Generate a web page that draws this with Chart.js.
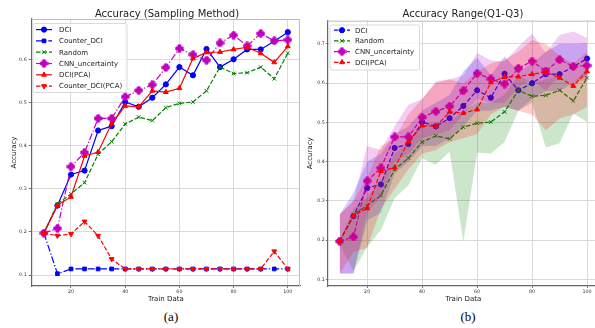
<!DOCTYPE html>
<html>
<head>
<meta charset="utf-8">
<script src="https://cdn.jsdelivr.net/npm/chart.js@4.4.0/dist/chart.umd.min.js"></script>
<style>
  html, body { margin: 0; padding: 0; background: #fff; overflow: hidden; }
  body { width: 595px; height: 328px; position: relative; font-family: "DejaVu Sans", sans-serif; }
  .box { position: absolute; top: 0; height: 305px; }
  #boxA { left: 0; width: 305px; }
  #boxB { left: 305px; width: 300px; }
  .title { position: absolute; top: 8px; font-size: 10px; line-height: 12px; color: #222; white-space: nowrap; transform: translateX(-50%); }
  .caption { position: absolute; top: 309px; font-family: "Liberation Serif", "DejaVu Serif", serif; font-size: 13px; line-height: 15px; color: #000; transform: translateX(-50%); }
</style>
</head>
<body>
<div class="box" id="boxA"><canvas id="chartA"></canvas></div>
<div class="box" id="boxB"><canvas id="chartB"></canvas></div>
<div class="title" style="left:167px">Accuracy (Sampling Method)</div>
<div class="title" style="left:463px">Accuracy Range(Q1-Q3)</div>
<div class="caption" style="left:171px">(a)</div>
<div class="caption" style="left:468px">(b)</div>
<script>
// data
const trainData = [10, 15, 20, 25, 30, 35, 40, 45, 50, 55, 60, 65, 70, 75, 80, 85, 90, 95, 100];
const dci = [0.198, 0.261, 0.333, 0.342, 0.435, 0.445, 0.501, 0.490, 0.511, 0.542, 0.582, 0.563, 0.624, 0.582, 0.600, 0.623, 0.623, 0.642, 0.663];
const counterDci = [0.197, 0.103, 0.114, 0.114, 0.114, 0.114, 0.114, 0.114, 0.114, 0.114, 0.114, 0.114, 0.114, 0.114, 0.114, 0.114, 0.114, 0.114, 0.114];
const random = [0.197, 0.265, 0.288, 0.314, 0.380, 0.409, 0.450, 0.466, 0.458, 0.488, 0.498, 0.501, 0.527, 0.582, 0.567, 0.569, 0.582, 0.555, 0.614];
const cnnUnc = [0.197, 0.208, 0.351, 0.384, 0.463, 0.463, 0.513, 0.528, 0.541, 0.581, 0.625, 0.611, 0.598, 0.638, 0.656, 0.631, 0.660, 0.643, 0.645];
const dciPca = [0.197, 0.262, 0.281, 0.376, 0.385, 0.451, 0.492, 0.490, 0.527, 0.524, 0.533, 0.602, 0.616, 0.617, 0.623, 0.628, 0.614, 0.593, 0.630];
const counterDciPca = [0.197, 0.191, 0.195, 0.224, 0.191, 0.137, 0.114, 0.114, 0.114, 0.114, 0.114, 0.114, 0.114, 0.114, 0.114, 0.114, 0.114, 0.155, 0.114];

// Q1 / Q3 bands (right panel)
const dciQ1 = [0.115, 0.115, 0.25, 0.27, 0.37, 0.40, 0.44, 0.44, 0.46, 0.49, 0.53, 0.53, 0.54, 0.53, 0.56, 0.58, 0.58, 0.60, 0.62];
const dciQ3 = [0.265, 0.32, 0.40, 0.42, 0.47, 0.49, 0.53, 0.55, 0.57, 0.63, 0.665, 0.62, 0.668, 0.63, 0.65, 0.68, 0.70, 0.70, 0.702];
const randomQ1 = [0.19, 0.12, 0.183, 0.226, 0.307, 0.34, 0.409, 0.392, 0.425, 0.196, 0.423, 0.421, 0.45, 0.53, 0.55, 0.436, 0.447, 0.523, 0.502];
const randomQ3 = [0.20, 0.28, 0.31, 0.35, 0.42, 0.45, 0.49, 0.50, 0.50, 0.53, 0.55, 0.55, 0.57, 0.62, 0.60, 0.61, 0.62, 0.60, 0.64];
const cnnQ1 = [0.115, 0.115, 0.27, 0.31, 0.40, 0.42, 0.46, 0.47, 0.48, 0.52, 0.56, 0.55, 0.55, 0.59, 0.61, 0.58, 0.62, 0.60, 0.61];
const cnnQ3 = [0.265, 0.30, 0.44, 0.43, 0.49, 0.545, 0.56, 0.605, 0.61, 0.62, 0.677, 0.658, 0.655, 0.693, 0.727, 0.677, 0.723, 0.732, 0.715];
const pcaQ1 = [0.115, 0.17, 0.18, 0.28, 0.33, 0.38, 0.42, 0.43, 0.45, 0.46, 0.47, 0.52, 0.54, 0.53, 0.52, 0.48, 0.51, 0.52, 0.54];
const pcaQ3 = [0.265, 0.30, 0.36, 0.44, 0.46, 0.52, 0.56, 0.60, 0.61, 0.60, 0.63, 0.65, 0.66, 0.68, 0.71, 0.70, 0.67, 0.65, 0.68];

const xTicks = [20, 40, 60, 80, 100];
const yTicksA = [0.1, 0.2, 0.3, 0.4, 0.5, 0.6];
const yTicksB = [0.1, 0.2, 0.3, 0.4, 0.5, 0.6, 0.7];

const BLUE = '#0000ff', GREEN = '#008000', MAG = '#bf00bf', RED = '#ff0000';
const DASH = [4.5, 2];
const DASHDOT = [7, 2, 1.3, 2];

Chart.defaults.font.family = '"DejaVu Sans", sans-serif';

function pts(vals) {
  return trainData.map((x, i) => ({ x: x, y: vals[i] }));
}

// matplotlib 'P' (filled plus) marker
function plusMarker(color) {
  const c = document.createElement('canvas');
  c.width = 9; c.height = 9;
  const g = c.getContext('2d');
  const a = 3.0, b = 6.0, lo = 0.9, hi = 8.1;
  const p = [[a, lo], [b, lo], [b, a], [hi, a], [hi, b], [b, b], [b, hi], [a, hi], [a, b], [lo, b], [lo, a], [a, a]];
  g.beginPath();
  p.forEach((q, i) => i ? g.lineTo(q[0], q[1]) : g.moveTo(q[0], q[1]));
  g.closePath();
  g.fillStyle = color; g.strokeStyle = color; g.lineWidth = 1; g.lineJoin = 'round';
  g.fill(); g.stroke();
  return c;
}
const plusM = plusMarker(MAG);

function lineDs(label, vals, color, dash, style, radius, rot) {
  return {
    label: label, data: pts(vals),
    borderColor: color, backgroundColor: color, borderWidth: 1.2, borderDash: dash,
    pointStyle: style, pointRadius: radius, pointRotation: rot || 0,
    pointBackgroundColor: color, pointBorderColor: color, pointBorderWidth: 1,
    fill: false, tension: 0
  };
}

function bandDs(vals, color, fill) {
  return {
    data: pts(vals), borderWidth: 0, borderColor: 'transparent', backgroundColor: color,
    pointRadius: 0, fill: fill, tension: 0
  };
}

// legend drawn like matplotlib: line sample + marker + text
const lineLegend = {
  id: 'lineLegend',
  afterDraw(chart, args, o) {
    const ctx = chart.ctx;
    const items = chart.data.datasets.filter(d => d.label);
    ctx.save();
    ctx.beginPath();
    ctx.roundRect(o.x, o.y, o.w, o.h, 2);
    ctx.fillStyle = 'rgba(255,255,255,0.8)';
    ctx.fill();
    ctx.strokeStyle = '#d0d0d0';
    ctx.lineWidth = 0.8;
    ctx.stroke();
    items.forEach((d, i) => {
      const cy = o.y0 + i * o.step;
      ctx.strokeStyle = d.borderColor;
      ctx.lineWidth = d.borderWidth;
      ctx.setLineDash(d.borderDash || []);
      ctx.beginPath();
      ctx.moveTo(o.lx0, cy);
      ctx.lineTo(o.lx1, cy);
      ctx.stroke();
      ctx.setLineDash([]);
      ctx.fillStyle = d.pointBackgroundColor;
      ctx.lineWidth = 1;
      Chart.helpers.drawPoint(ctx, { pointStyle: d.pointStyle, radius: d.pointRadius, rotation: d.pointRotation, borderWidth: 1 }, (o.lx0 + o.lx1) / 2, cy);
      ctx.fillStyle = '#222';
      ctx.font = '7px "DejaVu Sans"';
      ctx.textBaseline = 'middle';
      ctx.fillText(d.label, o.tx, cy + 0.5);
    });
    ctx.restore();
  }
};

// light top/right spines
const frame = {
  id: 'frame',
  beforeDatasetsDraw(chart) {
    const a = chart.chartArea, ctx = chart.ctx;
    ctx.save();
    ctx.strokeStyle = '#bbbbbb';
    ctx.lineWidth = 1;
    ctx.beginPath();
    ctx.moveTo(a.left, a.top + 0.5);
    ctx.lineTo(a.right - 0.5, a.top + 0.5);
    ctx.lineTo(a.right - 0.5, a.bottom);
    ctx.stroke();
    ctx.restore();
  }
};

function makeScales(yTicks, yMin, yMax, yWidth, yTitlePad, yTickLen, yPad) {
  return {
    x: {
      type: 'linear', min: 5.5, max: 104.5,
      afterBuildTicks: s => { s.ticks = xTicks.map(v => ({ value: v })); },
      afterFit: s => { s.height = 19; },
      grid: { color: '#dadada', lineWidth: 1, tickLength: 2, tickColor: '#777' },
      border: { color: '#666', width: 1.2 },
      ticks: { font: { size: 4.8 }, color: '#333', padding: 1, maxRotation: 0, callback: v => String(v) },
      title: { display: true, text: 'Train Data', font: { size: 7 }, color: '#222', padding: { top: 0, bottom: 1.8 } }
    },
    y: {
      type: 'linear', min: yMin, max: yMax,
      afterBuildTicks: s => { s.ticks = yTicks.map(v => ({ value: v })); },
      afterFit: s => { s.width = yWidth; },
      grid: { color: '#dadada', lineWidth: 1, tickLength: yTickLen, tickColor: '#777' },
      border: { color: '#666', width: 1.2 },
      ticks: { font: { size: 4.8 }, color: '#333', padding: yPad, callback: v => v.toFixed(1) },
      title: { display: true, text: 'Accuracy', font: { size: 7 }, color: '#222', padding: { top: yTitlePad, bottom: 0 } }
    }
  };
}

function baseOptions(scales, pad, legendOpts) {
  return {
    animation: false, responsive: true, maintainAspectRatio: false, devicePixelRatio: 1,
    layout: { padding: pad },
    scales: scales,
    plugins: { legend: { display: false }, tooltip: { enabled: false }, lineLegend: legendOpts }
  };
}

// (a) Accuracy (Sampling Method)
const dsA = [
  lineDs('DCI', dci, BLUE, [], 'circle', 2.6),
  lineDs('Counter_DCI', counterDci, BLUE, DASHDOT, 'rect', 2.6),
  lineDs('Random', random, GREEN, DASH, 'crossRot', 2.6),
  lineDs('CNN_uncertainty', cnnUnc, MAG, DASHDOT, plusM, 4),
  lineDs('DCI(PCA)', dciPca, RED, [], 'triangle', 2.8),
  lineDs('Counter_DCI(PCA)', counterDciPca, RED, DASH, 'triangle', 2.8, 180)
];
dsA.forEach((d, i) => { d.order = -i; });

new Chart(document.getElementById('chartA'), {
  type: 'line',
  data: { datasets: dsA },
  options: baseOptions(
    makeScales(yTicksA, 0.0745, 0.6935, 31.7, 9.8, 3, 2),
    { top: 19, right: 3, left: 0, bottom: 0 },
    { x: 33, y: 23.5, w: 94, h: 69, y0: 29.6, step: 11.3, lx0: 36, lx1: 52, tx: 59 }
  ),
  plugins: [frame, lineLegend]
});

// (b) Accuracy Range(Q1-Q3)
const dsB = [
  bandDs(dciQ1, 'rgba(0,0,255,0.2)', false),
  bandDs(dciQ3, 'rgba(0,0,255,0.2)', '-1'),
  lineDs('DCI', dci, BLUE, DASH, 'circle', 2.6),
  bandDs(randomQ1, 'rgba(0,128,0,0.2)', false),
  bandDs(randomQ3, 'rgba(0,128,0,0.2)', '-1'),
  lineDs('Random', random, GREEN, DASH, 'crossRot', 2.6),
  bandDs(cnnQ1, 'rgba(191,0,191,0.2)', false),
  bandDs(cnnQ3, 'rgba(191,0,191,0.2)', '-1'),
  lineDs('CNN_uncertainty', cnnUnc, MAG, DASH, plusM, 4),
  bandDs(pcaQ1, 'rgba(255,0,0,0.2)', false),
  bandDs(pcaQ3, 'rgba(255,0,0,0.2)', '-1'),
  lineDs('DCI(PCA)', dciPca, RED, DASH, 'triangle', 2.8)
];
dsB.forEach((d, i) => { d.order = -i; });

new Chart(document.getElementById('chartB'), {
  type: 'line',
  data: { datasets: dsB },
  options: baseOptions(
    makeScales(yTicksB, 0.083, 0.7594, 22.3, 0.8, 1.5, 1),
    { top: 20.7, right: 5.6, left: 0, bottom: 0 },
    { x: 25, y: 25, w: 89.5, h: 45, y0: 30.2, step: 10.7, lx0: 29, lx1: 45, tx: 50 }
  ),
  plugins: [frame, lineLegend]
});
</script>
</body>
</html>
